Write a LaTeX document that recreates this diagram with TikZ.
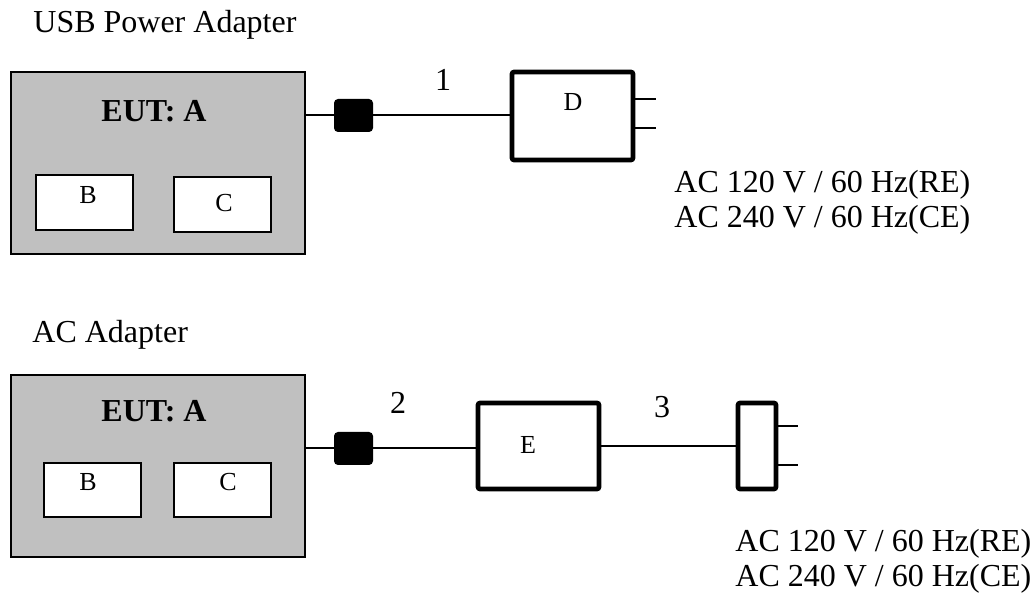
\documentclass[tikz,border=0pt]{standalone}
\usepackage{fontspec}
\setmainfont{Liberation Serif}
\usepackage{tikz}
\usetikzlibrary{arrows.meta,calc,positioning}
\definecolor{eutgray}{HTML}{C0C0C0}
\tikzset{eut/.style={draw,line width=1pt,fill=eutgray,minimum width=147pt,minimum height=91pt,inner sep=0pt},
  sub/.style={draw,line width=0.9pt,fill=white,minimum width=48.5pt,minimum height=27.5pt,inner sep=0pt},
  plugbox/.style={draw,line width=2.3pt,rounded corners=1pt,fill=white,inner sep=0pt},
  conn/.style={fill=black,rounded corners=2pt,minimum width=19.5pt,minimum height=16.5pt,inner sep=0pt},
  big/.style={font=\fontsize{16}{17.5}\selectfont,inner sep=0pt},
  lett/.style={font=\fontsize{13}{15}\selectfont,inner sep=0pt},
  wire/.style={line width=1pt}}

\begin{document}
\begin{tikzpicture}[x=0.5pt,y=-0.5pt]
\useasboundingbox (0,0) rectangle (1034,597);
% USB power adapter
\node[big,anchor=west] (usbtitle) at (33,25) {USB Power Adapter};
\node[eut] (eutone) at (158,163) {};
\node[big,font=\fontsize{16}{17.5}\selectfont\bfseries] (eutonelabel) at (154,111) {EUT: A};
\node[sub] (bone) at (84.5,202.5) {}; \node[lett] (bonelabel) at (88,195) {B};
\node[sub] (cone) at (222.5,204.5) {}; \node[lett] (conelabel) at (224,203) {C};
\node[conn] (connone) at (353.5,115.5) {};
\node[plugbox,minimum width=60.5pt,minimum height=44pt] (dbox) at (572.5,116) {};
\node[lett] (dlabel) at (573,102) {D};
\draw[wire] (connone.west -| eutone.east) -- (connone.west);
\draw[wire] (connone.east) -- (connone.east -| dbox.west);
\node[big] (cableone) at (443,80) {1};
\coordinate (pinonea) at (656,99); \coordinate (pinoneb) at (656,128);
\draw[wire] (pinonea -| dbox.east) -- (pinonea); \draw[wire] (pinoneb -| dbox.east) -- (pinoneb);
\node[big,anchor=west,align=left] (acone) at (674,202.5) {AC 120 V / 60 Hz(RE)\\AC 240 V / 60 Hz(CE)};
% AC adapter
\node[big,anchor=west] (actitle) at (32,335) {AC Adapter};
\node[eut] (euttwo) at (158,466) {};
\node[big,font=\fontsize{16}{17.5}\selectfont\bfseries] (euttwolabel) at (154,411) {EUT: A};
\node[sub,minimum height=27pt] (btwo) at (92.5,490) {}; \node[lett] (btwolabel) at (88,482) {B};
\node[sub,minimum height=27pt] (ctwo) at (222.5,490) {}; \node[lett] (ctwolabel) at (228,482) {C};
\node[conn] (conntwo) at (353.5,448.5) {};
\node[plugbox,minimum width=60.5pt,minimum height=43pt] (ebox) at (538.5,446) {};
\node[lett] (elabel) at (528,445) {E};
\node[plugbox,minimum width=19pt,minimum height=43pt] (plug) at (757,446) {};
\draw[wire] (conntwo.west -| euttwo.east) -- (conntwo.west);
\draw[wire] (conntwo.east) -- (conntwo.east -| ebox.west);
\draw[wire] (ebox.east) -- (plug.west);
\node[big] (cabletwo) at (398,403) {2};
\node[big] (cablethree) at (662,407) {3};
\coordinate (pintwoa) at (798,426); \coordinate (pintwob) at (798,465);
\draw[wire] (pintwoa -| plug.east) -- (pintwoa); \draw[wire] (pintwob -| plug.east) -- (pintwob);
\node[big,anchor=west,align=left] (actwo) at (735,561.5) {AC 120 V / 60 Hz(RE)\\AC 240 V / 60 Hz(CE)};
\end{tikzpicture}
\end{document}
